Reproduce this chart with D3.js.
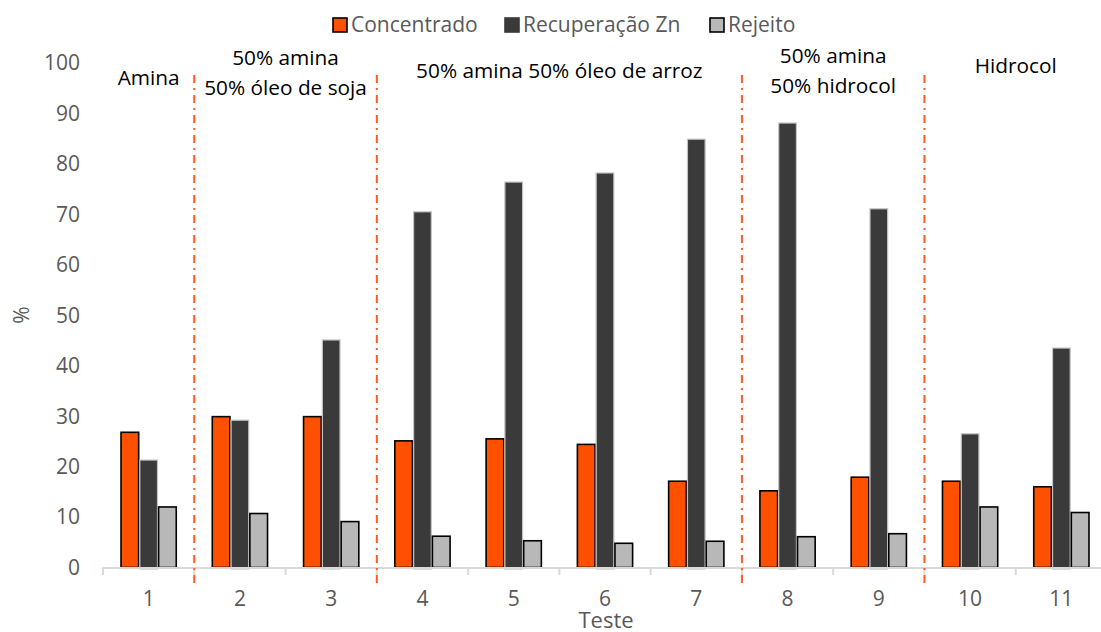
<!DOCTYPE html>
<html><head><meta charset="utf-8">
<script src="https://cdn.jsdelivr.net/npm/d3@7"></script>
<style>body{margin:0;background:#fff}svg{display:block;font-family:"Open Sans",sans-serif}</style>
</head><body><svg id="c" width="1101" height="632"></svg>
<script>
const categories = ["1","2","3","4","5","6","7","8","9","10","11"];
const seriesNames = ["Concentrado","Recuperação Zn","Rejeito"];
const concentrado = [26.8,29.9,29.9,25.1,25.5,24.4,17.1,15.2,17.9,17.1,16.0];
const recuperacao = [21.3,29.2,45.1,70.5,76.4,78.2,84.9,88.1,71.1,26.5,43.5];
const rejeito = [12.0,10.7,9.1,6.2,5.3,4.8,5.2,6.1,6.7,12.0,10.9];
const yTicks = [0,10,20,30,40,50,60,70,80,90,100];
const separators = [1,3,7,9]; // boundary after this many categories
const groupLabels = [
  {lines:["Amina"], from:0, to:1, ys:[85]},
  {lines:["50% amina","50% óleo de soja"], from:1, to:3, ys:[65,95]},
  {lines:["50% amina 50% óleo de arroz"], from:3, to:7, ys:[78]},
  {lines:["50% amina","50% hidrocol"], from:7, to:9, ys:[63,93]},
  {lines:["Hidrocol"], from:9, to:11, ys:[73]}
];
const colors = ["#ff5000","#3a3a3a","#b8b8b8"];
const strokes = ["#000","#c4c4c4","#000"];
const strokeW = [1.6,1.2,1.6];
const values = [concentrado, recuperacao, rejeito];

const svg = d3.select("#c");
const x0 = d3.scaleBand().domain(categories).range([103,1107]);
const bw = x0.bandwidth();
const x1 = d3.scaleBand().domain(seriesNames).range([bw*0.185, bw*0.815]).padding(0.06);
const y = d3.scaleLinear().domain([0,100]).range([567.5,63]);

// y tick labels
svg.append("g").selectAll("text").data(yTicks).join("text")
  .attr("x",80).attr("y",d=>y(d)).attr("dy","0.35em").attr("text-anchor","end")
  .attr("font-size",21).attr("fill","#595959").text(d=>d);

// bars
const data = [];
categories.forEach((c,i)=>seriesNames.forEach((s,j)=>data.push({c,s,j,v:values[j][i]})));
svg.append("g").selectAll("rect").data(data).join("rect")
  .attr("x",d=>x0(d.c)+x1(d.s)).attr("width",x1.bandwidth())
  .attr("y",d=>y(d.v)).attr("height",d=>y(0)-y(d.v)+(d.j===1?1.5:0))
  .attr("fill",d=>colors[d.j]).attr("stroke",d=>strokes[d.j]).attr("stroke-width",d=>strokeW[d.j]);

// x axis
const ax = svg.append("g");
ax.append("line").attr("x1",103).attr("x2",1107).attr("y1",y(0)+0.5).attr("y2",y(0)+0.5)
  .attr("stroke","#d9d9d9").attr("stroke-width",2);
ax.selectAll("line.t").data(d3.range(categories.length+1)).join("line").attr("class","t")
  .attr("x1",i=>103+i*bw).attr("x2",i=>103+i*bw).attr("y1",y(0)).attr("y2",y(0)+7.5)
  .attr("stroke","#d9d9d9").attr("stroke-width",2);
ax.selectAll("text").data(categories).join("text")
  .attr("x",d=>x0(d)+bw/2).attr("y",606).attr("text-anchor","middle")
  .attr("font-size",21).attr("fill","#595959").text(d=>d);

// separators
svg.append("g").selectAll("line").data(separators).join("line")
  .attr("x1",k=>103+k*bw).attr("x2",k=>103+k*bw).attr("y1",75).attr("y2",583)
  .attr("stroke","#ff5a1f").attr("stroke-width",2).attr("stroke-dasharray","8,5,2,5");

// group labels
groupLabels.forEach(g=>{
  const cx = 103 + (g.from+g.to)/2*bw;
  g.lines.forEach((t,i)=>svg.append("text").attr("x",cx).attr("y",g.ys[i])
    .attr("text-anchor","middle").attr("font-size",20.8).attr("fill","#000").text(t));
});

// axis titles
svg.append("text").attr("transform","translate(29,315) rotate(-90)").attr("text-anchor","middle")
  .attr("font-size",21).attr("fill","#595959").text("%");
svg.append("text").attr("x",606).attr("y",628).attr("text-anchor","middle")
  .attr("font-size",22).attr("fill","#595959").text("Teste");

// legend
const legX = [333,505,710];
const lg = svg.append("g");
seriesNames.forEach((s,j)=>{
  lg.append("rect").attr("x",legX[j]).attr("y",18).attr("width",14).attr("height",14)
    .attr("fill",colors[j]).attr("stroke",j===1?"#3a3a3a":"#000").attr("stroke-width",1.6);
  lg.append("text").attr("x",legX[j]+18).attr("y",25).attr("dy","0.35em")
    .attr("font-size",21).attr("fill","#595959").text(s);
});
</script></body></html>
